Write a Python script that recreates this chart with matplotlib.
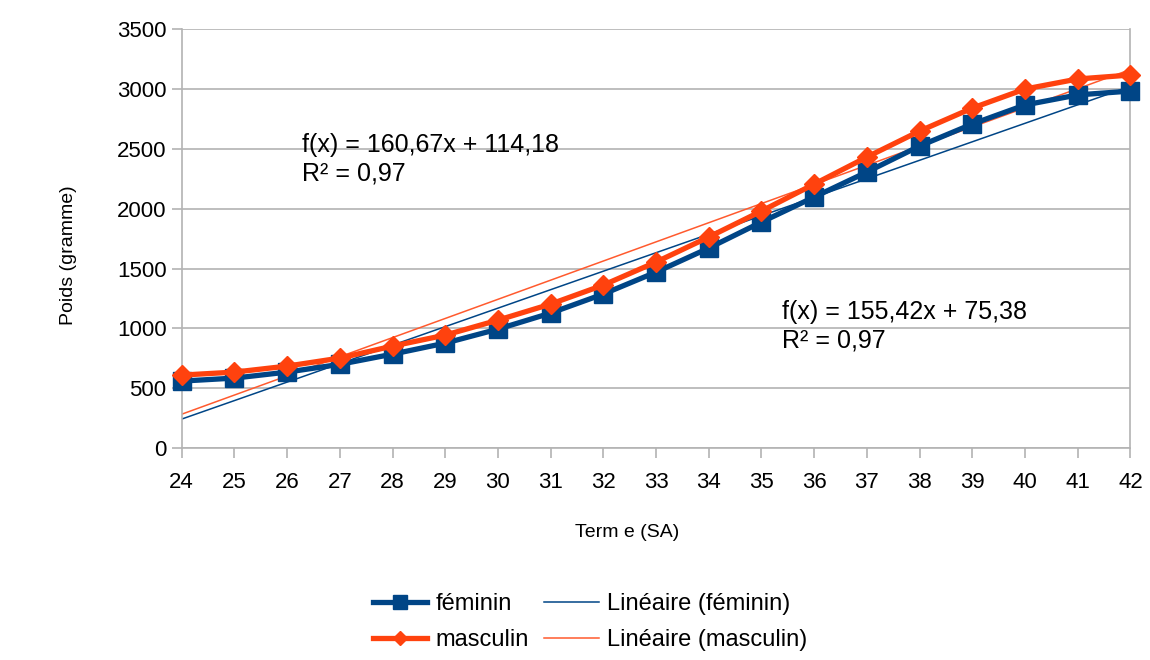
import matplotlib.pyplot as plt
import numpy as np

# data
terme = [24, 25, 26, 27, 28, 29, 30, 31, 32, 33, 34, 35, 36, 37, 38, 39, 40, 41, 42]
feminin = [560, 585, 635, 700, 785, 877, 994, 1128, 1287, 1470, 1671, 1888, 2097,
           2306, 2523, 2707, 2866, 2950, 2982]
masculin = [610, 635, 685, 752, 852, 944, 1069, 1203, 1362, 1554, 1763, 1980, 2205,
            2431, 2648, 2840, 2999, 3083, 3116]
eq_fem = "f(x) = 155,42x + 75,38\nR² = 0,97"
eq_masc = "f(x) = 160,67x + 114,18\nR² = 0,97"

blue = '#004586'
orange = '#ff420e'

plt.rcParams['font.family'] = ['Liberation Sans', 'DejaVu Sans']

fig = plt.figure(figsize=(11.5, 6.6), dpi=100)
ax = fig.add_axes([0.158, 0.321, 0.825, 0.635])

x = np.array(terme)
idx = np.arange(1, len(x) + 1)

# linear trend lines (fit over index 1..n like the spreadsheet)
p_f = np.polyfit(idx, feminin, 1)
p_m = np.polyfit(idx, masculin, 1)
lf, = ax.plot(x, np.polyval(p_f, idx), color=blue, lw=1.1, zorder=2)
lm, = ax.plot(x, np.polyval(p_m, idx), color='#ff5a2e', lw=1.1, zorder=2)

hf, = ax.plot(x, feminin, color=blue, lw=3.8, marker='s', markersize=13, zorder=3)
hm, = ax.plot(x, masculin, color=orange, lw=3.8, marker='D', markersize=10, zorder=4)

ax.set_xlim(24, 42)
ax.set_ylim(0, 3500)
ax.set_xticks(terme)
ax.set_yticks(range(0, 3501, 500))
ax.yaxis.grid(True, color='#b3b3b3', lw=1.2)
ax.set_axisbelow(True)
ax.spines['top'].set_visible(False)
for s in ['left', 'right', 'bottom']:
    ax.spines[s].set_color('#b3b3b3')
    ax.spines[s].set_linewidth(1.2)
ax.tick_params(axis='both', color='#b3b3b3', width=1.2, length=7)
ax.tick_params(axis='y', labelsize=16, pad=4)
ax.tick_params(axis='x', labelsize=16, pad=10)
for ln in [hf, hm]:
    ln.set_clip_on(False)

ax.set_xlabel('Term e (SA)', fontsize=14)
ax.set_ylabel('Poids (gramme)', fontsize=14)
ax.xaxis.set_label_coords(0.469, -0.18)
ax.yaxis.set_label_coords(-0.11, 0.46)

ax.text(26.28, 2630, eq_masc, fontsize=18, va='top', ha='left', linespacing=1.2)
ax.text(35.39, 1235, eq_fem, fontsize=18, va='top', ha='left', linespacing=1.2)

fig.legend([hf, hm, lf, lm],
           ['féminin', 'masculin', 'Linéaire (féminin)', 'Linéaire (masculin)'],
           ncol=2, loc='center', bbox_to_anchor=(590 / 1150, 1 - 622 / 660),
           frameon=False, fontsize=17, handlelength=2.3, handletextpad=0.34,
           columnspacing=0.65, labelspacing=0.6, markerscale=0.75)

fig.savefig('out.png', dpi=100)
